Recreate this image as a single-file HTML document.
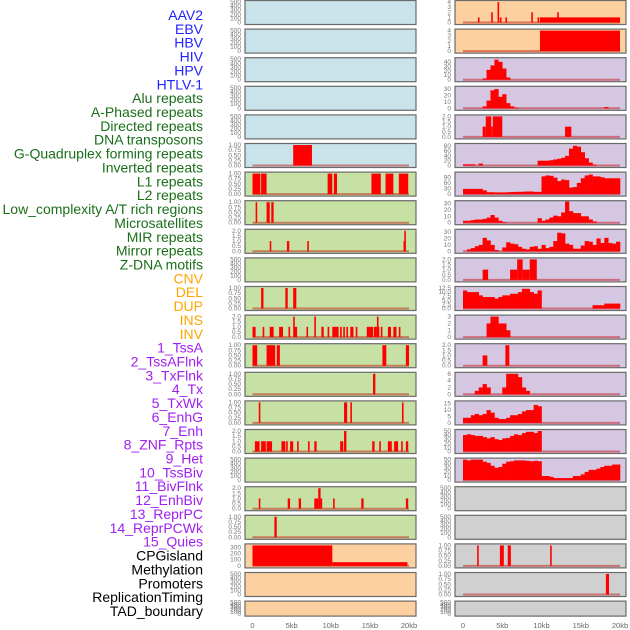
<!DOCTYPE html>
<html><head><meta charset="utf-8">
<style>
html,body{margin:0;padding:0;background:#fff;}
svg{display:block;font-family:"Liberation Sans",sans-serif;}
</style></head>
<body>
<svg id="chart" width="630" height="630" viewBox="0 0 630 630" xmlns="http://www.w3.org/2000/svg"></svg>
<script>
// ---------- data ----------
const trackLabels = ["AAV2","EBV","HBV","HIV","HPV","HTLV-1","Alu repeats","A-Phased repeats","Directed repeats","DNA transposons","G-Quadruplex forming repeats","Inverted repeats","L1 repeats","L2 repeats","Low_complexity A/T rich regions","Microsatellites","MIR repeats","Mirror repeats","Z-DNA motifs","CNV","DEL","DUP","INS","INV","1_TssA","2_TssAFlnk","3_TxFlnk","4_Tx","5_TxWk","6_EnhG","7_Enh","8_ZNF_Rpts","9_Het","10_TssBiv","11_BivFlnk","12_EnhBiv","13_ReprPC","14_ReprPCWk","15_Quies","CPGisland","Methylation","Promoters","ReplicationTiming","TAD_boundary"];
const labelGroups = [6,13,5,15,5];
const xTickValues = [0,5,10,15,20];
const xTickLabels = ["0","5kb","10kb","15kb","20kb"];

// y-axis tick sets: [ticks, labels, ymax]
const T500 = [[0,100,200,300,400,500],["0","100","200","300","400","500"],500];
const T1 = [[0,0.25,0.5,0.75,1],["0.00","0.25","0.50","0.75","1.00"],1];
const T2 = [[0,0.5,1,1.5,2],["0.0","0.5","1.0","1.5","2.0"],2];
const T3 = [[0,1,2,3],["0","1","2","3"],3];
const T4 = [[0,1,2,3,4],["0","1","2","3","4"],4];
const T6 = [[0,2,4,6],["0","2","4","6"],6];
const T12 = [[0,2.5,5,7.5,10,12.5],["0.0","2.5","5.0","7.5","10.0","12.5"],12.5];
const T15 = [[0,5,10,15],["0","5","10","15"],16];
const T30 = [[0,10,20,30],["0","10","20","30"],32];
const T40 = [[0,10,20,30,40],["0","10","20","30","40"],46];
const T50 = [[0,10,20,30,40,50],["0","10","20","30","40","50"],50];
const T80 = [[0,20,40,60,80],["0","20","40","60","80"],85];
const T90 = [[0,30,60,90],["0","30","60","90"],110];
const T300 = [[0,100,200,300],["0","100","200","300"],330];

const leftTicks = [T500,T500,T500,T500,T500,T1,T1,T1,T2,T500,T1,T2,T1,T1,T1,T2,T500,T2,T1,T300,T500,T500];
const rightTicks = [T4,T4,T40,T30,T2,T80,T90,T30,T30,T2,T12,T3,T2,T6,T15,T50,T50,T500,T500,T1,T1,T500];
const leftBg = ["#c8e3ea","#c8e3ea","#c8e3ea","#c8e3ea","#c8e3ea","#c8e3ea","#c7e0a4","#c7e0a4","#c7e0a4","#c7e0a4","#c7e0a4","#c7e0a4","#c7e0a4","#c7e0a4","#c7e0a4","#c7e0a4","#c7e0a4","#c7e0a4","#c7e0a4","#fdd09f","#fdd09f","#fdd09f"];
const rightBg = ["#fdd09f","#fdd09f","#d5c6e1","#d5c6e1","#d5c6e1","#d5c6e1","#d5c6e1","#d5c6e1","#d5c6e1","#d5c6e1","#d5c6e1","#d5c6e1","#d5c6e1","#d5c6e1","#d5c6e1","#d5c6e1","#d5c6e1","#d0d0d0","#d0d0d0","#d0d0d0","#d0d0d0","#d0d0d0"];

// segments [startKb, endKb, value] for left column
const leftSegments = [
 null,null,null,null,null,
 [[5.2,7.6,1]],
 [[0,1.0,1],[1.1,1.8,1],[9.6,10.2,1],[10.4,10.8,1],[15.2,16.4,1],[17.0,18.0,1],[18.7,19.9,1]],
 [[0.4,0.6,1],[1.8,2.2,1],[2.4,2.7,1]],
 [[2.2,2.4,1],[4.4,4.7,1],[7.0,7.2,1],[19.3,19.4,1],[19.4,19.6,2]],
 null,
 [[1.1,1.4,1],[4.2,4.5,1],[5.2,5.6,1]],
 [[0,0.4,1],[1.3,1.4,1],[2.2,2.7,1],[3.4,3.9,1],[4.6,4.8,1],[5.2,5.3,2],[5.3,5.7,1],[6.9,7.0,1],[7.9,8.1,2],[8.8,9.1,1],[9.6,9.7,1],[10.2,11.0,1],[11.2,11.4,1],[11.6,11.8,1],[12.0,12.1,1],[12.5,12.9,1],[13.2,13.3,1],[14.6,15.4,1],[15.5,15.9,1],[15.9,16.0,2],[16.0,16.2,1],[16.4,16.6,1],[17.3,17.7,1],[18.0,18.4,1],[18.7,18.9,1]],
 [[0,0.6,1],[1.8,2.9,1],[3.1,3.5,1],[16.6,17.1,1],[19.6,20,1]],
 [[15.4,15.7,1]],
 [[0.8,1.0,1],[11.7,12.1,1],[12.5,12.7,1],[19.1,19.3,1]],
 [[0.3,0.9,1],[1.1,1.7,1],[1.8,2.5,1],[3.7,4.2,1],[4.3,4.5,1],[4.8,5.2,1],[5.7,5.9,1],[7.1,7.3,1],[7.9,8.2,1],[11.2,11.6,1],[11.7,12.0,2],[15.3,15.6,1],[16.2,16.4,1],[17.3,17.8,1],[18.1,18.6,1],[19.0,19.2,1],[19.6,19.9,1]],
 null,
 [[0.8,1.0,1],[4.5,4.8,1],[5.9,6.2,1],[7.9,8.4,1],[8.4,8.7,2],[8.7,8.8,1],[10.3,10.5,1],[13.9,14.2,1],[19.6,19.9,1]],
 [[2.8,3.1,1]],
 [[0,10.2,330],[10.2,19.8,60]],
 null,null
];

// right column: segments
const rightSegments = [
 [[1.9,2.1,1],[3.6,3.8,2],[4.4,4.6,4],[4.7,4.9,1],[5.4,5.6,1],[8.7,8.9,2],[9.5,9.6,1],[9.8,20,1],[12.0,12.2,2]],
 [[9.8,20,4]],
 null,null,
 [[2.5,2.9,1],[2.9,3.6,2],[3.6,3.8,1],[3.8,5.0,2],[13.0,13.8,1]],
 null,null,null,null,
 [[2.5,3.2,1],[6.0,6.9,1],[6.9,7.6,2],[7.6,8.5,1],[8.5,9.4,2]],
 null,null,
 [[2.5,3.1,1],[5.4,5.9,2]],
 null,null,null,null,null,null,
 [[1.8,2.0,1],[4.7,5.2,1],[5.7,6.1,1],[11.1,11.3,1]],
 [[18.2,18.6,1]],
 null
];

// right column: histograms in 0.5 kb bins
const histHIV = [0,0,0,0,0,3,22,32,45,40,25,5];
const histHPV = [0,0,0,0,0,3,12,28,30,18,22,8,3,1,0,0,0,0,0,0,0,0,0,0,0,0,0,0,0,0,0,0,0,0,0,0,2];
const histGQuad = [5,5,5,0,8,0,0,0,0,0,0,0,0,0,0,0,0,0,0,20,20,20,22,25,28,32,40,70,82,78,55,30,12,4];
const histInverted = [28,28,28,28,28,20,10,10,9,9,9,10,11,12,12,13,14,14,12,12,95,100,98,88,70,78,75,35,38,60,85,100,105,95,95,90,85,85,85,85];
const histLowComplexity = [3,3,4,5,5,6,8,12,8,3,1,0,0,0,0,0,0,0,0,7,3,5,8,11,10,16,33,18,15,15,10,10,5,2];
const histMicrosat = [0,3,5,8,10,21,17,10,2,0,6,14,12,11,7,4,3,7,8,4,10,5,7,16,29,28,12,10,4,4,9,16,15,10,20,13,21,13,12,15];
const histDEL = [11,10,10,10,8,7,7,7,6,7,8,8,9,9,10,12,12,10,9,11,0,0,0,0,0,0,0,0,0,0,0,0,0,2,2,2,3,3,3,3];
const histDUP = [0,0,0,0,0,0,2,3,3,2,2,1];
const histTssAFlnk = [0,0,0,1,2,3,2,0,0,0,2,6,6,6,5,2,1];
const histTxWk = [4,4,6,7,6,7,10,8,4,3,3,4,6,6,7,9,10,10,14,13];
const histEnhG = [40,42,40,38,38,35,32,35,30,28,32,33,38,42,40,45,48,48,45,50];
const histEnh = [50,48,50,50,50,45,42,35,30,32,40,45,46,48,48,48,47,46,47,46,10,10,8,5,5,5,5,5,10,10,14,20,25,25,28,32,35,35,38,38];
const rightHists = [null,null,histHIV,histHPV,null,histGQuad,histInverted,histLowComplexity,histMicrosat,null,histDEL,histDUP,null,histTssAFlnk,histTxWk,histEnhG,histEnh,null,null,null,null,null];

// ---------- drawing ----------
const NS = "http://www.w3.org/2000/svg";
const svg = document.getElementById("chart");
function mk(tag, attrs, parent){
  const e = document.createElementNS(NS, tag);
  for (const k in attrs) e.setAttribute(k, attrs[k]);
  (parent||svg).appendChild(e);
  return e;
}
const labelColors = ["#2222ff","#1a6e1a","#ffa500","#a020f0","#000000"];
let li = 0;
labelGroups.forEach((n,g)=>{
  for (let k=0;k<n;k++){
    const t = mk("text",{x:203,y:(20+li*13.86).toFixed(1),"text-anchor":"end","font-size":"14",fill:labelColors[g]});
    
    
    t.textContent = trackLabels[li];
    li++;
  }
});

const cols = [
  {x:245,w:171,x0:252.5,x1:409,tickX:241,ticks:leftTicks,bg:leftBg,segs:leftSegments,hists:null,name:"left"},
  {x:455,w:171,x0:463,x1:620,tickX:451,ticks:rightTicks,bg:rightBg,segs:rightSegments,hists:rightHists,name:"right"}
];
const nRows = 22;
cols.forEach(c=>{
  const xs = kb => c.x0 + (kb/20)*(c.x1-c.x0);
  for (let r=0;r<nRows;r++){
    const top = r*28.6 + 0.5;
    const h = (r===nRows-1) ? 15 : 24;
    const g = mk("g",{});
    
    
    const bg = mk("rect",{x:c.x,y:top,width:c.w,height:h,fill:c.bg[r],stroke:"#6a6a6a","stroke-width":"1.2"},g);
    
    
    const tk = c.ticks[r];
    const ymax = tk[2];
    const yb = top + h - 2, yt = top + 1.5;
    const ys = v => yb - (v/ymax)*(yb-yt);
    tk[0].forEach((v,i)=>{
      const t = mk("text",{x:c.tickX,y:(ys(v)+2).toFixed(1),"text-anchor":"end","font-size":"6.5",fill:"#777"},g);
      
      
      t.textContent = tk[1][i];
    });
    const segs = c.segs[r];
    const hist = c.hists ? c.hists[r] : null;
    if (segs || hist){
      const bl = mk("line",{x1:xs(0),x2:xs(20),y1:yb,y2:yb,stroke:"rgba(190,0,0,0.45)","stroke-width":"2"},g);
      
      
    }
    if (hist){
      hist.forEach((v,i)=>{
        if (v<=0) return;
        const b = mk("rect",{x:xs(i*0.5),y:ys(v),width:xs((i+1)*0.5)-xs(i*0.5)+0.3,height:yb-ys(v),fill:"#ff0000"},g);
        
        
      });
    }
    if (segs){
      segs.forEach(s=>{
        const x1 = xs(s[0]), x2 = xs(s[1]);
        const b = mk("rect",{x:x1,y:ys(s[2]),width:Math.max(1.6,x2-x1),height:yb-ys(s[2]),fill:"#ff0000"},g);
        
        
      });
    }
  }
  xTickValues.forEach((v,i)=>{
    const t = mk("text",{x:xs(v),y:628,"text-anchor":"middle","font-size":"7.5",fill:"#666"});
    
    
    t.textContent = xTickLabels[i];
  });
});
</script>
</body></html>
